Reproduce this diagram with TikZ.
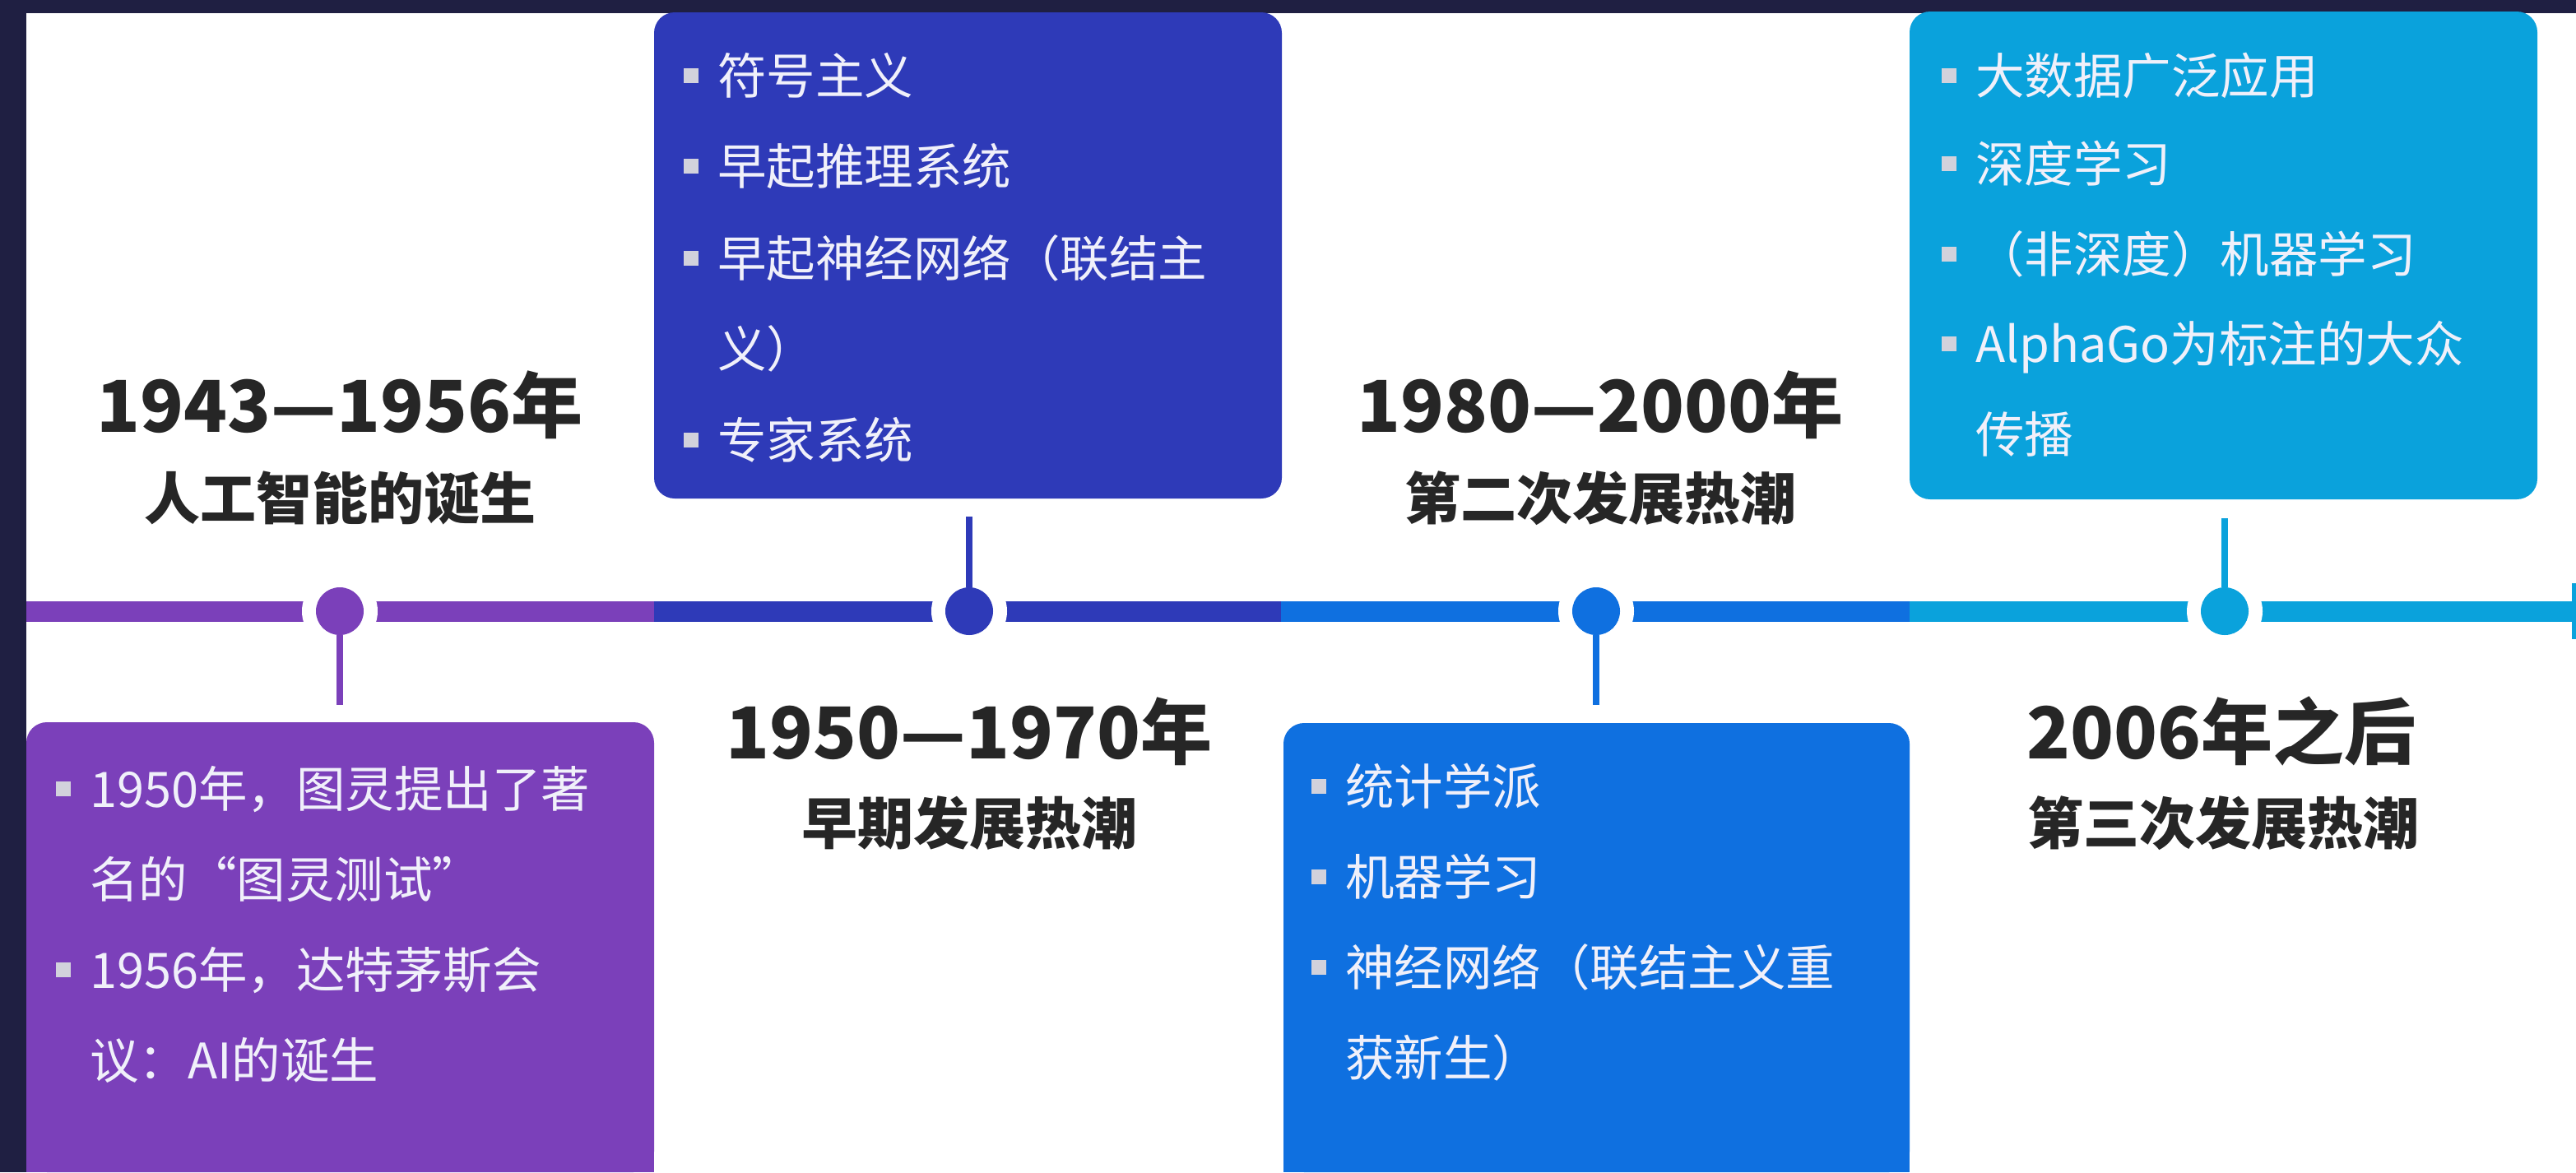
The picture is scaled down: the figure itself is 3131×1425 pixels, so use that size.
\documentclass[tikz,border=0pt]{standalone}
\usepackage{fontspec}
\setmainfont{Noto Sans CJK SC}
\definecolor{frame}{HTML}{1F1F42}
\definecolor{cpur}{HTML}{7B40BA}
\definecolor{cdb}{HTML}{2E3AB8}
\definecolor{cbl}{HTML}{0F70E0}
\definecolor{clb}{HTML}{0AA2DC}
\definecolor{head}{HTML}{262626}
\definecolor{bul}{HTML}{D2D2DC}
\definecolor{btxt}{HTML}{F0F0FA}
\newcommand{\blt}{\makebox[0pt][r]{\textcolor{bul}{\rule[13pt]{18pt}{18pt}}\hspace{23pt}}}
\begin{document}
\begin{tikzpicture}[x=1pt,y=-1pt,
  box/.style={rectangle, rounded corners=25pt, inner sep=0pt, draw=none},
  dot/.style={circle, inner sep=0pt, minimum size=58pt},
  ring/.style={circle, fill=white, inner sep=0pt, minimum size=92pt},
  stem/.style={line width=8pt},
  seg/.style={line width=25pt},
  txt/.style={anchor=base west, inner sep=0pt, text=btxt, font=\fontsize{59.5}{62}\selectfont},
  hya/.style={anchor=base, inner sep=0pt, text=head, font=\bfseries\fontsize{87}{100}\selectfont},
  hyb/.style={anchor=base, inner sep=0pt, text=head, font=\bfseries\fontsize{68}{80}\selectfont}]
\useasboundingbox (0,0) rectangle (3131,1425);
\fill[frame] (0,0) rectangle (3131,1425);
\fill[white] (32,16) rectangle (3131,1425);

% boxes (bottom ones run off the lower edge)
\node[box, fill=cpur, minimum width=763pt, minimum height=547pt] (bp) at (413.5,1151.5) {};
\fill[cpur] (32,1380) rectangle (795,1425);
\node[box, fill=cdb, minimum width=763pt, minimum height=591pt] (bd) at (1176.5,310.5) {};
\node[box, fill=cbl, minimum width=761pt, minimum height=546pt] (bb) at (1940.5,1152) {};
\fill[cbl] (1560,1380) rectangle (2321,1425);
\node[box, fill=clb, minimum width=763pt, minimum height=593pt] (bl) at (2702.5,310.5) {};

% timeline
\coordinate (a0) at (32,743);
\coordinate (a1) at (795,743);
\coordinate (a2) at (1557,743);
\coordinate (a3) at (2321,743);
\coordinate (a4) at (3131,743);
\draw[seg, cpur] (a0) -- (a1);
\draw[seg, cdb] (a1) -- (a2);
\draw[seg, cbl] (a2) -- (a3);
\draw[seg, clb] (a3) -- (a4);
\fill[clb] (3126,709) rectangle (3131,777);

% rings
\node[ring] (r1) at (413,743) {};
\node[ring] (r2) at (1178,743) {};
\node[ring] (r3) at (1940,743) {};
\node[ring] (r4) at (2704,743) {};

% dots
\node[dot, fill=cpur] (d1) at (413,743) {};
\node[dot, fill=cdb] (d2) at (1178,743) {};
\node[dot, fill=cbl] (d3) at (1940,743) {};
\node[dot, fill=clb] (d4) at (2704,743) {};

% stems
\coordinate (s1) at (413,857);
\coordinate (s2) at (1178,628);
\coordinate (s3) at (1940,857);
\coordinate (s4) at (2704,630);
\draw[stem, cpur] (d1.south) -- (s1);
\draw[stem, cdb] (d2.north) -- (s2);
\draw[stem, cbl] (d3.south) -- (s3);
\draw[stem, clb] (d4.north) -- (s4);

% headings
\node[hya] (h1a) at (413,525) {1943—1956年};
\node[hyb] (h1b) at (413,631) {人工智能的诞生};
\node[hya] (h2a) at (1178,922) {1950—1970年};
\node[hyb] (h2b) at (1178,1026) {早期发展热潮};
\node[hya] (h3a) at (1945,525) {1980—2000年};
\node[hyb] (h3b) at (1945,631) {第二次发展热潮};
\node[hya] (h4a) at (2700,922) {2006年之后};
\node[hyb] (h4b) at (2702,1026) {第三次发展热潮};

% purple box text
\node[txt] (t11) at (109,981) {\blt{}1950年，图灵提出了著};
\node[txt] (t12) at (109,1091) {名的“图灵测试”};
\node[txt] (t13) at (109,1201) {\blt{}1956年，达特茅斯会};
\node[txt] (t14) at (109,1311) {议：AI的诞生};

% dark blue box text
\node[txt] (t21) at (872,114) {\blt{}符号主义};
\node[txt] (t22) at (872,224) {\blt{}早起推理系统};
\node[txt] (t23) at (872,336) {\blt{}早起神经网络（联结主};
\node[txt] (t24) at (872,446) {义）};
\node[txt] (t25) at (872,557) {\blt{}专家系统};

% blue box text
\node[txt] (t31) at (1635,978) {\blt{}统计学派};
\node[txt] (t32) at (1635,1088) {\blt{}机器学习};
\node[txt] (t33) at (1635,1198) {\blt{}神经网络（联结主义重};
\node[txt] (t34) at (1635,1308) {获新生）};

% light blue box text
\node[txt] (t41) at (2401,114) {\blt{}大数据广泛应用};
\node[txt] (t42) at (2401,221) {\blt{}深度学习};
\node[txt] (t43) at (2401,331) {\blt{}（非深度）机器学习};
\node[txt] (t44) at (2401,440) {\blt{}AlphaGo为标注的大众};
\node[txt] (t45) at (2401,550) {传播};
\end{tikzpicture}
\end{document}
